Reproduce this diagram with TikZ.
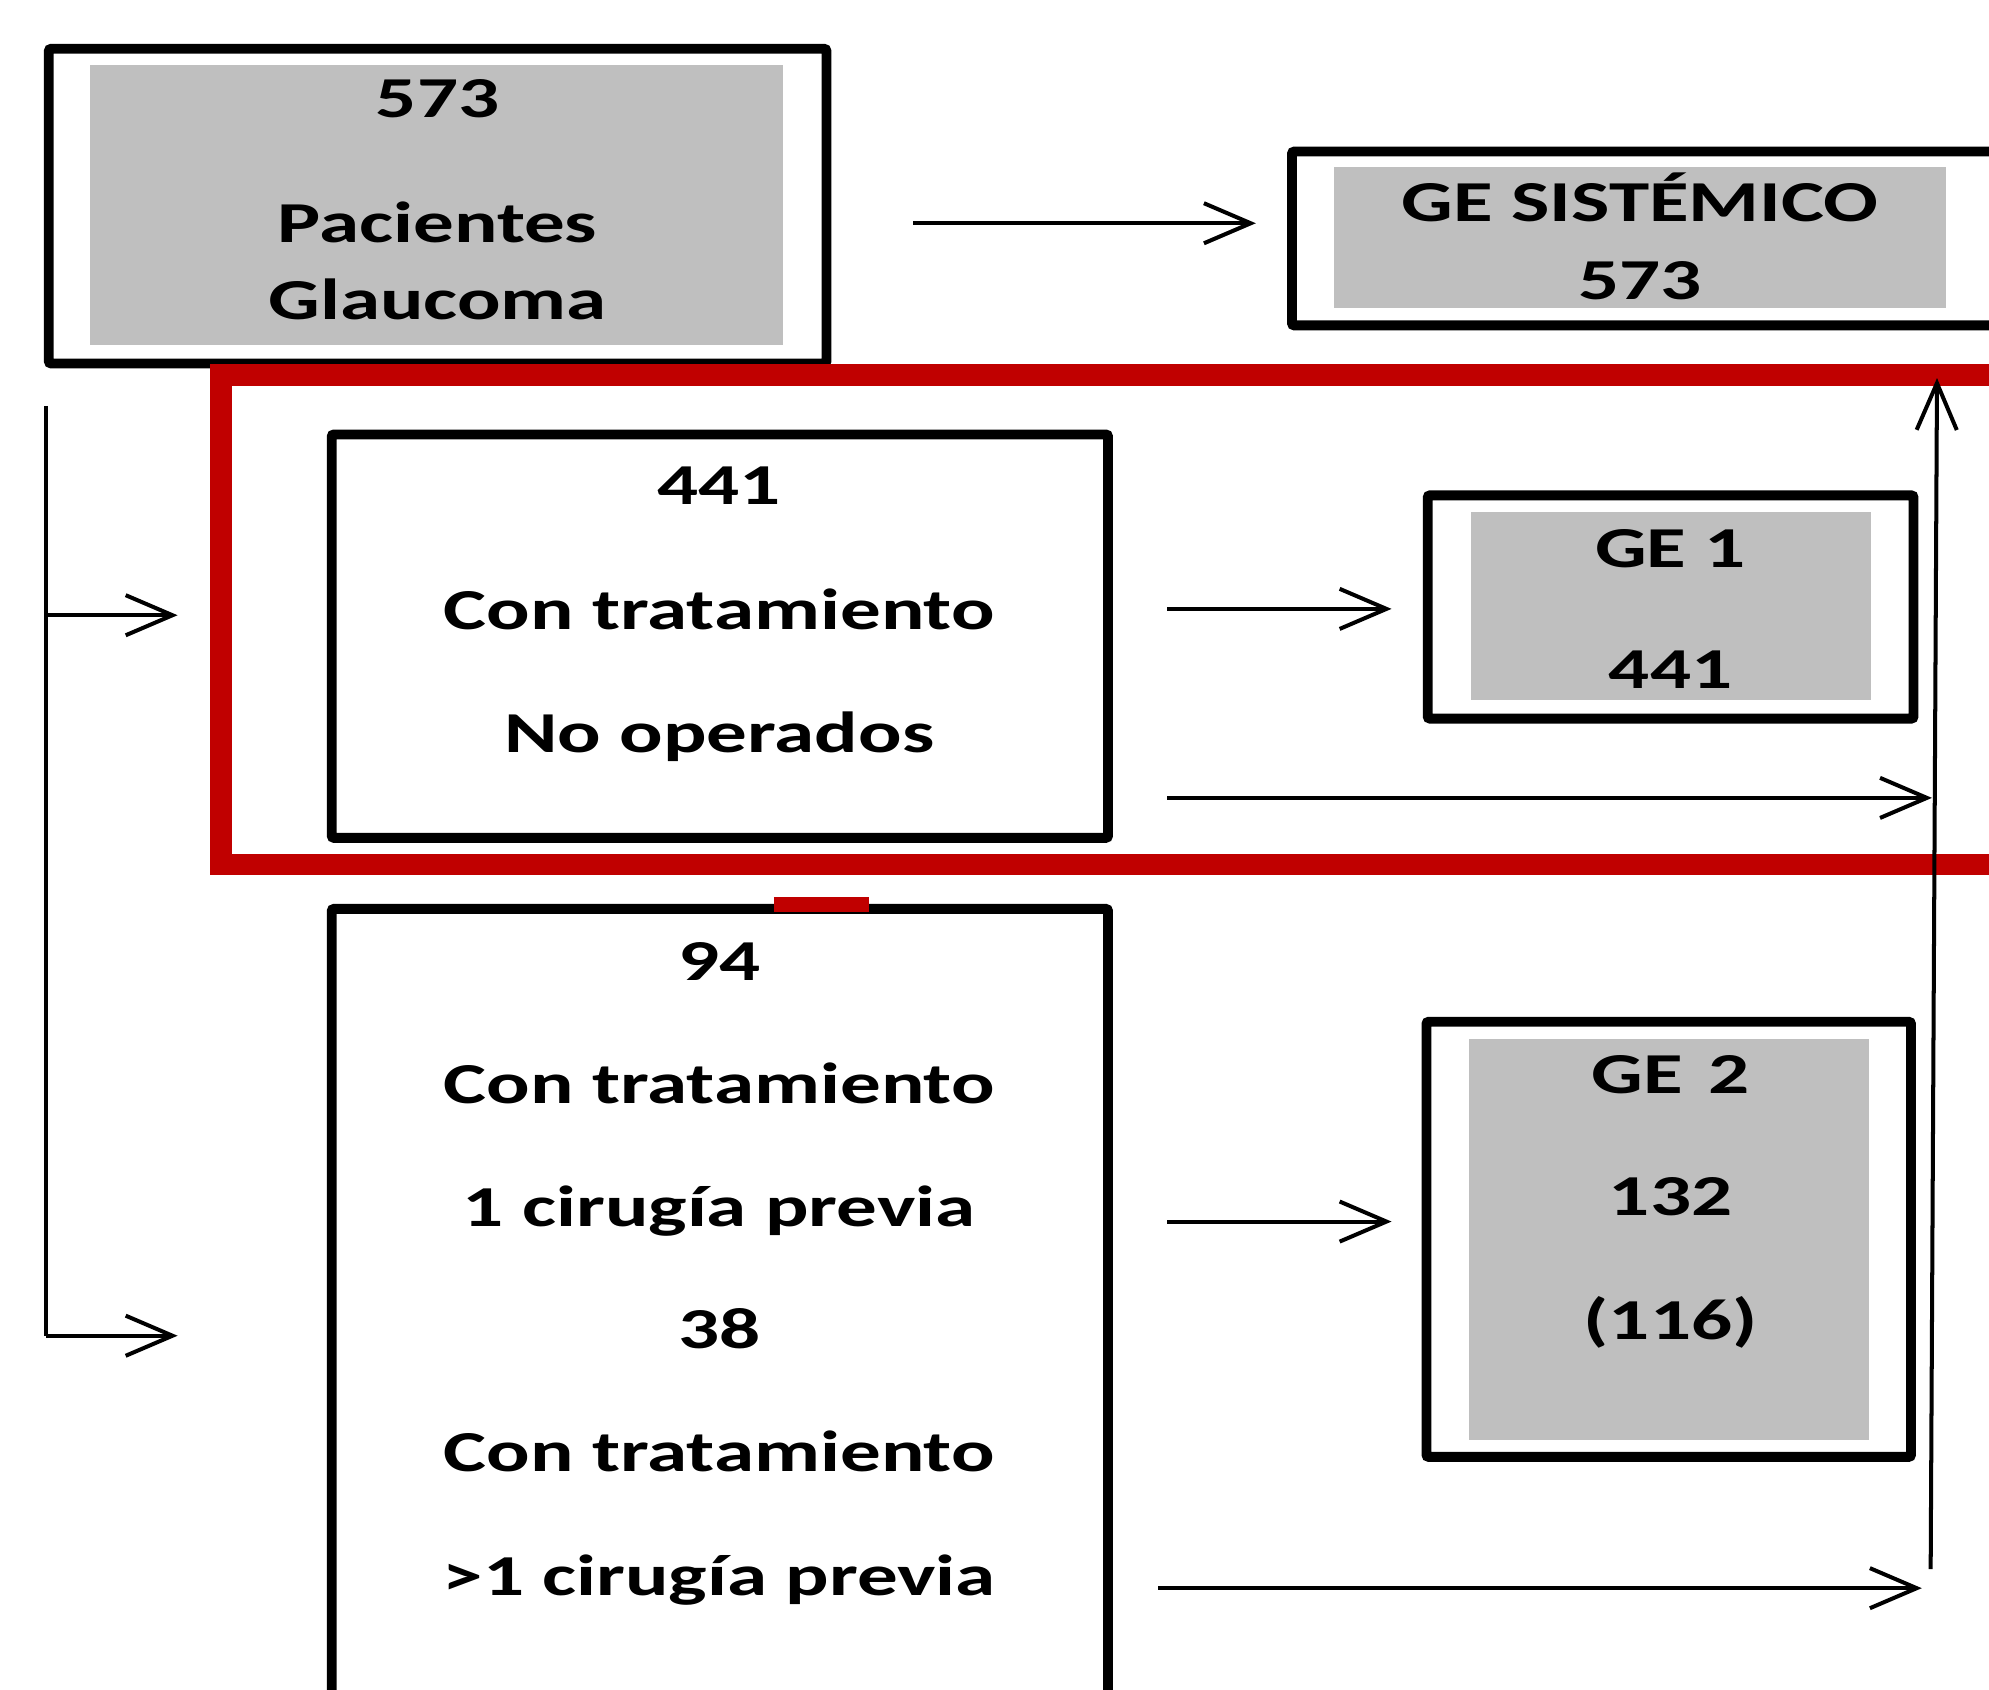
\documentclass[tikz,border=0pt]{standalone}
\usepackage{fontspec}
\setmainfont{Carlito}[FakeStretch=1.4]
\usetikzlibrary{arrows.meta}
\definecolor{boxgray}{HTML}{BFBFBF}
\definecolor{darkred}{HTML}{C00000}
\tikzset{
  x=0.02cm, y=-0.02cm,
  outerbox/.style={draw=black, line width=4.4pt, fill=white, inner sep=0pt, rounded corners=1pt},
  graybox/.style={fill=boxgray, draw=none, inner sep=0pt},
  txt/.style={font=\fontsize{26}{30}\bfseries\selectfont, anchor=base, inner sep=0pt},
  thin/.style={line width=1.8pt},
  arr/.style={line width=1.8pt, -{Straight Barb[length=21pt,width=18pt]}},
}
\begin{document}
\begin{tikzpicture}
\useasboundingbox (0,0) rectangle (1568,1332);
\clip (0,0) rectangle (1568,1332);
% box A
\node[outerbox, minimum width=613*0.02cm, minimum height=248*0.02cm] (A) at (345,162.5) {};
\node[graybox, minimum width=546*0.02cm, minimum height=221*0.02cm] (Ag) at (344,161.5) {};
\node[txt] (a1) at (345,93) {573};
\node[txt] (a2) at (345,191) {Pacientes};
\node[txt] (a3) at (345,252) {Glaucoma};
% GE sistemico
\node[outerbox, minimum width=556.5*0.02cm, minimum height=137*0.02cm] (GS) at (1296.75,188) {};
\node[graybox, minimum width=482*0.02cm, minimum height=111*0.02cm] (GSg) at (1293,187.5) {};
\node[txt] (gs1) at (1293,175) {GE SISTÉMICO};
\node[txt] (gs2) at (1293,236) {573};
% red frame
\draw[darkred, line width=9.8pt] (1600,295.5) -- (174,295.5) -- (174,681.5) -- (1600,681.5);
% box B
\node[outerbox, minimum width=612*0.02cm, minimum height=318*0.02cm] (B) at (567.5,501.5) {};
\node[txt] (b1) at (567,398) {441};
\node[txt] (b2) at (567,496) {Con tratamiento};
\node[txt] (b3) at (567,593) {No operados};
% GE1
\node[outerbox, minimum width=383*0.02cm, minimum height=176*0.02cm] (G1) at (1317,478.5) {};
\node[graybox, minimum width=315*0.02cm, minimum height=148*0.02cm] (G1g) at (1317.5,478) {};
\node[txt] (g11) at (1317,447) {GE 1};
\node[txt] (g12) at (1317,543) {441};
% box C
\node[outerbox, minimum width=612*0.02cm, minimum height=643.5*0.02cm] (C) at (567.5,1038.25) {};
\draw[darkred, line width=6.8pt] (610,713) -- (685,713);
\node[txt] (c1) at (567,773) {94};
\node[txt] (c2) at (567,870) {Con tratamiento};
\node[txt] (c3) at (567,967) {1 cirugía previa};
\node[txt] (c4) at (567,1063) {38};
\node[txt] (c5) at (567,1160) {Con tratamiento};
\node[txt] (c6) at (567,1258) {>1 cirugía previa};
% GE2
\node[outerbox, minimum width=382*0.02cm, minimum height=343*0.02cm] (G2) at (1315.5,977) {};
\node[graybox, minimum width=315*0.02cm, minimum height=316*0.02cm] (G2g) at (1315.5,977) {};
\node[txt] (g21) at (1317,862) {GE\hspace{0.45em}2};
\node[txt] (g22) at (1317,958) {132};
\node[txt] (g23) at (1317,1056) {(116)};
% connectors
\coordinate (pA1) at (720,176);
\coordinate (pA2) at (990,176);
\draw[arr] (pA1) -- (pA2);
\coordinate (L0) at (36,320);
\coordinate (L1) at (36,485);
\coordinate (L1e) at (140,485);
\coordinate (L2) at (36,1053);
\coordinate (L2e) at (140,1053);
\draw[thin] (L0) -- (L2);
\draw[arr] (L1) -- (L1e);
\draw[arr] (L2) -- (L2e);
\coordinate (b1s) at (920,480);
\coordinate (b1e) at (1097,480);
\draw[arr] (b1s) -- (b1e);
\coordinate (V0) at (1522,1237);
\coordinate (V1) at (1527,298);
\draw[arr] (V0) -- (V1);
\coordinate (b2s) at (920,629);
\coordinate (b2e) at (1523,629);
\draw[arr] (b2s) -- (b2e);
\coordinate (c1s) at (920,963);
\coordinate (c1e) at (1097,963);
\draw[arr] (c1s) -- (c1e);
\coordinate (c2s) at (913,1252);
\coordinate (c2e) at (1515,1252);
\draw[arr] (c2s) -- (c2e);
\end{tikzpicture}
\end{document}
